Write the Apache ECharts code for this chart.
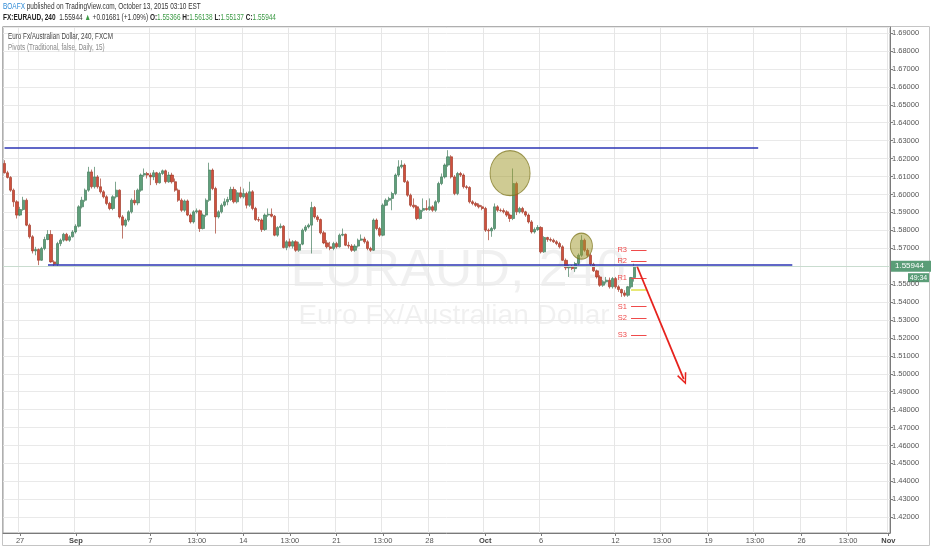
<!DOCTYPE html>
<html><head><meta charset="utf-8">
<script src="https://cdn.jsdelivr.net/npm/echarts@6/dist/echarts.min.js"></script>
<style>html,body{margin:0;padding:0;background:#fff}#c{width:932px;height:550px}</style>
</head><body><div id="c"></div>
<script>
// ---- data (EURAUD 4h) ----
const opens = [
1.6173,1.6121,1.6095,1.6024,1.5959,1.5885,1.5916,1.5968,1.5829,1.5764,
1.5685,1.5693,1.5633,1.5699,1.5749,1.5777,1.5624,1.5611,1.5726,1.5745,
1.5778,1.5745,1.5764,1.5791,1.5823,1.5931,1.5968,1.6024,1.6126,1.6043,
1.6098,1.6043,1.6015,1.5987,1.5950,1.5922,1.5987,1.6024,1.5875,1.5829,
1.5857,1.5903,1.5968,1.5953,1.6024,1.6108,1.6117,1.6108,1.6098,1.6121,
1.6065,1.6117,1.6132,1.6071,1.6108,1.6071,1.6024,1.5968,1.5912,1.5964,
1.5885,1.5847,1.5903,1.5909,1.5810,1.5885,1.5968,1.6136,1.6033,1.5875,
1.5903,1.5940,1.5959,1.5972,1.6028,1.5959,1.6009,1.5987,1.6005,1.5940,
1.6015,1.5922,1.5860,1.5857,1.5805,1.5885,1.5890,1.5879,1.5773,1.5816,
1.5823,1.5704,1.5736,1.5712,1.5736,1.5689,1.5723,1.5801,1.5819,1.5829,
1.5927,1.5875,1.5860,1.5786,1.5730,1.5708,1.5699,1.5726,1.5708,1.5773,
1.5778,1.5717,1.5712,1.5689,1.5712,1.5745,1.5752,1.5736,1.5699,1.5689,
1.5857,1.5810,1.5773,1.5940,1.5968,1.5978,1.6005,1.6108,1.6154,1.6164,
1.6071,1.5996,1.5940,1.5931,1.5866,1.5912,1.5922,1.5916,1.5931,1.5912,
1.5959,1.6061,1.6098,1.6164,1.6210,1.6098,1.6005,1.6117,1.6108,1.6043,
1.6039,1.5959,1.5950,1.5940,1.5931,1.5922,1.5801,1.5797,1.5810,1.5931,
1.5912,1.5910,1.5903,1.5885,1.5866,1.6061,1.5903,1.5922,1.5903,1.5885,
1.5847,1.5791,1.5805,1.5816,1.5680,1.5760,1.5749,1.5745,1.5736,1.5726,
1.5708,1.5633,1.5591,1.5596,1.5587,1.5615,1.5661,1.5745,1.5689,1.5661,
1.5611,1.5574,1.5540,1.5494,1.5513,1.5522,1.5485,1.5531,1.5485,1.5470,
1.5451,1.5438,1.5485,1.55366];
const closes = [
1.6121,1.6095,1.6024,1.5959,1.5885,1.5916,1.5968,1.5829,1.5764,1.5685,
1.5693,1.5633,1.5699,1.5749,1.5777,1.5624,1.5611,1.5726,1.5745,1.5778,
1.5745,1.5764,1.5791,1.5823,1.5931,1.5968,1.6024,1.6126,1.6043,1.6098,
1.6043,1.6015,1.5987,1.5950,1.5922,1.5987,1.6024,1.5875,1.5829,1.5857,
1.5903,1.5968,1.5953,1.6024,1.6108,1.6117,1.6108,1.6098,1.6121,1.6065,
1.6117,1.6132,1.6071,1.6108,1.6071,1.6024,1.5968,1.5912,1.5964,1.5885,
1.5847,1.5903,1.5909,1.5810,1.5885,1.5968,1.6136,1.6033,1.5875,1.5903,
1.5940,1.5959,1.5972,1.6028,1.5959,1.6009,1.5987,1.6005,1.5940,1.6015,
1.5922,1.5860,1.5857,1.5805,1.5885,1.5890,1.5879,1.5773,1.5816,1.5823,
1.5704,1.5736,1.5712,1.5736,1.5689,1.5723,1.5801,1.5819,1.5829,1.5927,
1.5875,1.5860,1.5786,1.5730,1.5708,1.5699,1.5726,1.5708,1.5773,1.5778,
1.5717,1.5712,1.5689,1.5712,1.5745,1.5752,1.5736,1.5699,1.5689,1.5857,
1.5810,1.5773,1.5940,1.5968,1.5978,1.6005,1.6108,1.6154,1.6164,1.6071,
1.5996,1.5940,1.5931,1.5866,1.5912,1.5922,1.5916,1.5931,1.5912,1.5959,
1.6061,1.6098,1.6164,1.6210,1.6098,1.6005,1.6117,1.6108,1.6043,1.6039,
1.5959,1.5950,1.5940,1.5931,1.5922,1.5801,1.5797,1.5810,1.5931,1.5912,
1.5910,1.5903,1.5885,1.5866,1.6061,1.5903,1.5922,1.5903,1.5885,1.5847,
1.5791,1.5805,1.5816,1.5680,1.5760,1.5749,1.5745,1.5736,1.5726,1.5708,
1.5633,1.5591,1.5596,1.5587,1.5615,1.5661,1.5745,1.5689,1.5661,1.5611,
1.5574,1.5540,1.5494,1.5513,1.5522,1.5485,1.5531,1.5485,1.5470,1.5451,
1.5438,1.5485,1.5537,1.55944];
const lows = [
1.6117,1.6089,1.6015,1.5931,1.5866,1.5879,1.5909,1.5823,1.5754,1.5671,
1.5661,1.5606,1.5630,1.5689,1.5745,1.5619,1.5600,1.5600,1.5712,1.5736,
1.5739,1.5736,1.5760,1.5782,1.5816,1.5922,1.5959,1.6015,1.6033,1.6033,
1.6033,1.6005,1.5978,1.5940,1.5912,1.5912,1.5978,1.5866,1.5754,1.5819,
1.5847,1.5894,1.5940,1.5940,1.6015,1.6098,1.6089,1.6052,1.6080,1.6052,
1.6061,1.6108,1.6061,1.6065,1.6061,1.6015,1.5959,1.5903,1.5903,1.5879,
1.5838,1.5838,1.5894,1.5791,1.5805,1.5875,1.5959,1.6024,1.5782,1.5866,
1.5894,1.5931,1.5940,1.5964,1.5950,1.5950,1.5978,1.5978,1.5922,1.5931,
1.5912,1.5853,1.5847,1.5791,1.5797,1.5875,1.5872,1.5767,1.5764,1.5810,
1.5699,1.5689,1.5704,1.5699,1.5680,1.5680,1.5717,1.5791,1.5810,1.5671,
1.5866,1.5847,1.5778,1.5723,1.5699,1.5689,1.5689,1.5699,1.5704,1.5767,
1.5712,1.5699,1.5680,1.5680,1.5704,1.5741,1.5726,1.5689,1.5680,1.5685,
1.5801,1.5764,1.5767,1.5935,1.5959,1.5912,1.5996,1.6098,1.6145,1.6065,
1.5987,1.5931,1.5922,1.5857,1.5860,1.5903,1.5909,1.5909,1.5903,1.5903,
1.5950,1.6052,1.6089,1.6154,1.6089,1.5996,1.5996,1.6098,1.6033,1.6028,
1.5950,1.5940,1.5931,1.5922,1.5912,1.5791,1.5745,1.5764,1.5801,1.5903,
1.5903,1.5894,1.5875,1.5847,1.5857,1.5885,1.5894,1.5894,1.5875,1.5838,
1.5782,1.5782,1.5797,1.5671,1.5674,1.5736,1.5736,1.5730,1.5717,1.5699,
1.5630,1.5578,1.5540,1.5578,1.5568,1.5606,1.5652,1.5680,1.5652,1.5600,
1.5568,1.5531,1.5485,1.5485,1.5503,1.5475,1.5475,1.5475,1.5457,1.5429,
1.5429,1.5429,1.5475,1.55137];
const highs = [
1.6191,1.6132,1.6102,1.6033,1.5968,1.5931,1.5987,1.5978,1.5838,1.5773,
1.5708,1.5699,1.5708,1.5764,1.5801,1.5801,1.5633,1.5736,1.5754,1.5786,
1.5786,1.5773,1.5801,1.5834,1.5940,1.5987,1.6033,1.6154,1.6139,1.6154,
1.6108,1.6089,1.6024,1.5996,1.5959,1.5996,1.6071,1.6028,1.5885,1.5866,
1.5912,1.5978,1.6024,1.6033,1.6117,1.6145,1.6126,1.6121,1.6136,1.6126,
1.6126,1.6139,1.6139,1.6126,1.6121,1.6089,1.6033,1.5978,1.5972,1.5972,
1.5894,1.5912,1.5922,1.5916,1.5894,1.5978,1.6177,1.6145,1.6043,1.5912,
1.5950,1.5978,1.5987,1.6043,1.6043,1.6024,1.6043,1.6033,1.6015,1.6071,
1.6024,1.5931,1.5875,1.5866,1.5894,1.5922,1.5922,1.5885,1.5823,1.5838,
1.5829,1.5745,1.5754,1.5745,1.5745,1.5736,1.5810,1.5829,1.5838,1.5959,
1.5935,1.5885,1.5866,1.5797,1.5745,1.5736,1.5736,1.5736,1.5782,1.5810,
1.5782,1.5736,1.5723,1.5723,1.5754,1.5777,1.5764,1.5745,1.5708,1.5866,
1.5866,1.5819,1.5950,1.5978,1.5987,1.6015,1.6117,1.6191,1.6191,1.6173,
1.6080,1.6005,1.5978,1.5940,1.5922,1.5978,1.5968,1.5978,1.5940,1.5968,
1.6071,1.6117,1.6173,1.6247,1.6219,1.6108,1.6126,1.6126,1.6117,1.6052,
1.6046,1.5968,1.5959,1.5950,1.5940,1.5931,1.5810,1.5819,1.5950,1.5940,
1.5922,1.5922,1.5912,1.5894,1.6145,1.6071,1.5931,1.5931,1.5909,1.5894,
1.5857,1.5816,1.5829,1.5823,1.5767,1.5764,1.5760,1.5754,1.5745,1.5736,
1.5717,1.5643,1.5606,1.5606,1.5624,1.5671,1.5773,1.5754,1.5699,1.5671,
1.5619,1.5581,1.5550,1.5522,1.5540,1.5537,1.5540,1.5540,1.5494,1.5475,
1.5466,1.5490,1.5540,1.56138];

// x-axis tick labels (category key -> text)
const tickKeys  = ['2015-08-27 01:00','2015-09-01 01:00','2015-09-07 01:00','2015-09-09 13:00','2015-09-14 01:00','2015-09-16 13:00','2015-09-21 01:00','2015-09-23 13:00','2015-09-28 01:00','2015-10-01 01:00','2015-10-06 01:00','2015-10-12 01:00','2015-10-14 13:00','2015-10-19 01:00','2015-10-21 13:00','2015-10-26 01:00','2015-10-28 13:00','2015-11-01 17:00'];
const tickTexts = ['27','Sep','7','13:00','14','13:00','21','13:00','28','Oct','6','12','13:00','19','13:00','26','13:00','Nov'];
const monthTexts = ['Sep','Oct','Nov'];

// pivots (Traditional, daily)
const pivotNames  = ['R3','R2','R1','P','S1','S2','S3'];
const pivotValues = [1.5690,1.5628,1.5532,1.5467,1.5374,1.5309,1.5216];

// drawn lines / annotations (price values)
const channelTop = 1.6262, channelBottom = 1.5606;
const arrowFrom = 1.5597, arrowTo = 1.4970;
const bigCircle = 1.6119, smallCircle = 1.5712;
const lastPrice = 1.55944;
const header = {sym:'FX:EURAUD, 240', last:'1.55944', chg:'+0.01681 (+1.09%)', o:'1.55366', h:'1.56138', l:'1.55137', c:'1.55944'};

// ---- categories: 4h FXCM bars (EST), weekend closed ----
const categories = [];
(function(){
  let t = Date.UTC(2015,7,26,5);
  const p = n => (n<10?'0':'')+n;
  while (categories.length < 286) {
    const d = new Date(t), wd = d.getUTCDay(), h = d.getUTCHours();
    const closed = wd===6 || (wd===5 && h>=17) || (wd===0 && h<17);
    if (!closed) categories.push(d.getUTCFullYear()+'-'+p(d.getUTCMonth()+1)+'-'+p(d.getUTCDate())+' '+p(h)+':00');
    t += 4*3600*1000;
  }
})();
const tickMap = {}; tickKeys.forEach((k,i)=>{tickMap[k]=tickTexts[i];});
const isTick = (idx) => Object.prototype.hasOwnProperty.call(tickMap, categories[idx]);
const candles = opens.map((o,i)=>[o, closes[i], lows[i], highs[i]]);

const SANS = '"Liberation Sans",Arial,sans-serif';
const GREEN = '#3c9a45';
const vPath = 'path://M5,0 L10,10 L8.6,10.6 L5,3 L1.4,10.6 L0,10 Z';

const chart = echarts.init(document.getElementById('c'));
const last = candles.length - 1;

const markLines = [
  [{coord:[0, channelTop], lineStyle:{color:'#2b35b5', width:1.6, type:'solid'}}, {coord:[243, channelTop]}],
  [{coord:[14, channelBottom], lineStyle:{color:'#2b35b5', width:1.6, type:'solid'}}, {coord:[254, channelBottom]}],
  {yAxis: lastPrice, lineStyle:{color:'#c9dccf', width:1, type:'solid'},
   label:{show:true, position:'end', distance:1, formatter: lastPrice.toFixed(5), color:'#fff', backgroundColor:'#5a9d77', padding:[2,4,1,4], fontSize:8, fontFamily:SANS, width:32}}
];
pivotNames.forEach((n,i)=>{
  const isP = n==='P';
  markLines.push([
    {coord:[last-1, pivotValues[i]], lineStyle:{color: isP?'#e3e354':'#ef4a4a', width: isP?1.6:1, type:'solid'},
     label:{show:!isP, position:'start', formatter:n, color:'#ef4a4a', fontSize:7.5, fontFamily:SANS, distance:4}},
    {coord:[last+4, pivotValues[i]]}
  ]);
});
markLines.push([
  {coord:[last+1, arrowFrom], symbol:'none', lineStyle:{color:'#e6221d', width:1.8, type:'solid'}},
  {coord:[last+16, arrowTo], symbol:vPath, symbolSize:[10,12]}
]);

chart.setOption({
  animation:false,
  textStyle:{fontFamily:SANS},
  grid:{left:3, right:42, top:27, bottom:17, show:true, borderColor:'#9a9a9a', borderWidth:1},
  xAxis:{
    type:'category', data:categories, boundaryGap:true,
    axisLine:{lineStyle:{color:'#7a7a7a'}},
    axisTick:{show:true, alignWithLabel:true, interval:isTick, length:3, lineStyle:{color:'#7a7a7a'}},
    axisLabel:{interval:isTick, margin:4, fontSize:7.5, color:'#555', fontFamily:SANS,
      formatter:(v)=>{const t=tickMap[v]||''; return monthTexts.indexOf(t)>=0?'{b|'+t+'}':t;},
      rich:{b:{fontWeight:'bold', fontSize:7.5, color:'#444', fontFamily:SANS}}},
    splitLine:{show:true, interval:isTick, lineStyle:{color:'#e6e6e6', width:1}}
  },
  yAxis:{
    type:'value', position:'right', min:1.4112, max:1.6934, splitNumber:28, minInterval:0.01, maxInterval:0.01,
    axisLine:{show:true, lineStyle:{color:'#7a7a7a'}},
    axisTick:{show:true, length:3, lineStyle:{color:'#7a7a7a'}},
    axisLabel:{fontSize:7.5, color:'#555', margin:2, fontFamily:SANS, showMinLabel:false, showMaxLabel:false, formatter:v=>v.toFixed(5)},
    splitLine:{show:true, lineStyle:{color:'#e9e9e9', width:1}}
  },
  series:[{
    type:'candlestick', data:candles, barWidth:2.7,
    itemStyle:{color:'#5f9f7b', color0:'#d0503d', borderColor:'#467e5f', borderColor0:'#a33e2d', borderWidth:0.7},
    markLine:{silent:true, symbol:['none','none'], animation:false, label:{show:false}, data:markLines},
    markPoint:{silent:true, animation:false, label:{show:false},
      itemStyle:{color:'rgba(160,152,40,0.5)', borderColor:'rgba(125,118,30,0.75)', borderWidth:1},
      data:[
        {coord:[163, bigCircle], symbol:'circle', symbolSize:[40,45]},
        {coord:[186, smallCircle], symbol:'circle', symbolSize:[22,26]}
      ]}
  }]
});

const yLast = chart.convertToPixel({yAxisIndex:0}, lastPrice);
chart.setOption({graphic:[
  {type:'rect', silent:true, z:-1, shape:{x:2.5, y:26.5, width:927, height:519}, style:{fill:'none', stroke:'#c4c4c4', lineWidth:1}},
  {type:'text', silent:true, z:-5, style:{text:'EURAUD, 240', x:458, y:272, align:'center', verticalAlign:'middle', font:'52px '+SANS, fill:'rgba(0,0,0,0.06)'}},
  {type:'text', silent:true, z:-5, style:{text:'Euro Fx/Australian Dollar', x:454, y:316, align:'center', verticalAlign:'middle', font:'28px '+SANS, fill:'rgba(0,0,0,0.06)'}},
  {type:'text', silent:true, x:3, y:7, scaleX:0.72, style:{text:'{a|BOAFX}{t| published on TradingView.com, October 13, 2015 03:10 EST}', x:0, y:0, verticalAlign:'middle',
    rich:{a:{fill:'#2e8ad6', fontSize:9, fontFamily:SANS}, t:{fill:'#333', fontSize:9, fontFamily:SANS}}}},
  {type:'text', silent:true, x:3, y:18, scaleX:0.72, style:{text:'{b|'+header.sym+'}{t|  '+header.last+' }{g|▲}{t| '+header.chg+' }{b|O:}{g|'+header.o+'}{b| H:}{g|'+header.h+'}{b| L:}{g|'+header.l+'}{b| C:}{g|'+header.c+'}', x:0, y:0, verticalAlign:'middle',
    rich:{b:{fill:'#222', fontSize:9, fontWeight:'bold', fontFamily:SANS}, t:{fill:'#333', fontSize:9, fontFamily:SANS}, g:{fill:GREEN, fontSize:9, fontFamily:SANS}}}},
  {type:'text', silent:true, x:8, y:37, scaleX:0.74, style:{text:'Euro Fx/Australian Dollar, 240, FXCM', x:0, y:0, verticalAlign:'middle', font:'8.5px '+SANS, fill:'#444'}},
  {type:'text', silent:true, x:8, y:48, scaleX:0.74, style:{text:'Pivots (Traditional, false, Daily, 15)', x:0, y:0, verticalAlign:'middle', font:'8.5px '+SANS, fill:'#888'}},
  {type:'rect', silent:true, shape:{x:908, y:yLast+6, width:21, height:9}, style:{fill:'#5a9d77'}},
  {type:'text', silent:true, style:{text:'49:34', x:918.5, y:yLast+10.5, align:'center', verticalAlign:'middle', font:'7px '+SANS, fill:'#fff'}}
]});
</script></body></html>
